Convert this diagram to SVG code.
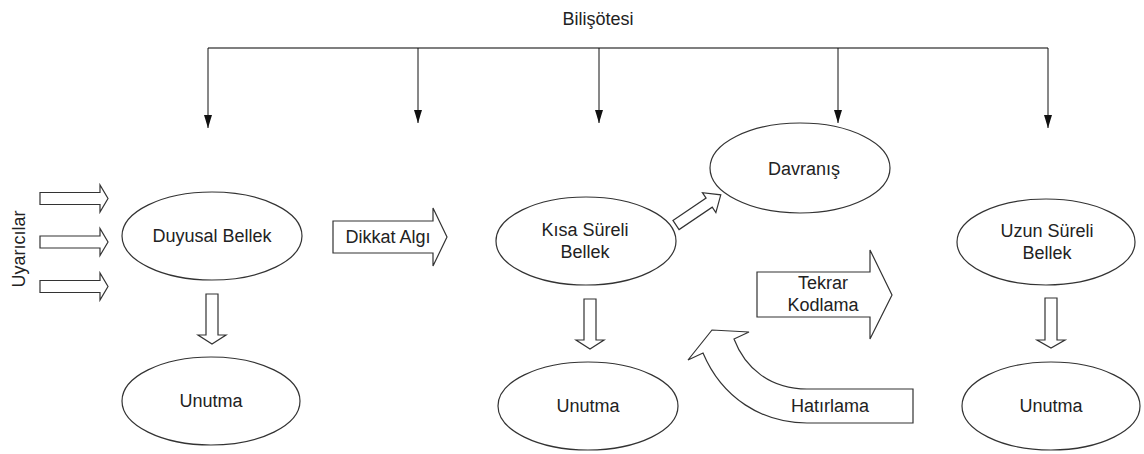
<svg xmlns="http://www.w3.org/2000/svg" width="1144" height="454" viewBox="0 0 1144 454">
<defs>
<style>
.n{fill:#fff;stroke:#333;stroke-width:1.2}
.b{fill:#fff;stroke:#333;stroke-width:1.2;stroke-linejoin:miter}
.t{font-family:"Liberation Sans",Arial,sans-serif;font-size:18px;fill:#222;text-anchor:middle}
.c{stroke:#111;stroke-width:1;fill:none}
</style>
<marker id="ah" viewBox="0 0 13 8" refX="13" refY="4" markerWidth="13" markerHeight="8" markerUnits="userSpaceOnUse" orient="auto">
<path d="M0,0 L13,4 L0,8 Z" fill="#111"/>
</marker>
</defs>
<rect width="1144" height="454" fill="#fff"/>
<text class="t" x="598" y="25">Bilişötesi</text>
<g id="connectors">
<line x1="208" y1="48" x2="1048" y2="48" stroke="#555" stroke-width="1.6"/>
<line class="c" x1="208" y1="48" x2="208" y2="128" marker-end="url(#ah)"/>
<line class="c" x1="418" y1="48" x2="418" y2="123" marker-end="url(#ah)"/>
<line class="c" x1="599" y1="48" x2="599" y2="123" marker-end="url(#ah)"/>
<line class="c" x1="838" y1="48" x2="838" y2="123" marker-end="url(#ah)"/>
<line class="c" x1="1048" y1="48" x2="1048" y2="128" marker-end="url(#ah)"/>
</g>
<g id="uyaricilar">
<text class="t" transform="translate(25,249) rotate(-90)">Uyarıcılar</text>
<path class="b" d="M40,192.5 H100 V185 L108,198.5 L100,212 V204.5 H40 Z"/>
<path class="b" d="M40,236 H100 V228.5 L108,242 L100,255.5 V248 H40 Z"/>
<path class="b" d="M40,280.5 H100 V273 L108,286.5 L100,300 V292.5 H40 Z"/>
</g>
<g id="duyusal-bellek">
<ellipse class="n" cx="212" cy="236" rx="90" ry="44"/>
<text class="t" x="212" y="242">Duyusal Bellek</text>
</g>
<g id="duyusal-unutma-arrow">
<path class="b" d="M206,294 H218 V335 H226 L212,344 L198,335 H206 Z"/>
</g>
<g id="duyusal-unutma">
<ellipse class="n" cx="211" cy="401" rx="89" ry="44"/>
<text class="t" x="211" y="407">Unutma</text>
</g>
<g id="dikkat-algi">
<path class="b" d="M333,221 H433 V208 L447,237 L433,266 V253 H333 Z"/>
<text class="t" x="388" y="243">Dikkat Algı</text>
</g>
<g id="kisa-sureli-bellek">
<ellipse class="n" cx="586" cy="241" rx="90" ry="44"/>
<text class="t" x="585" y="236">Kısa Süreli</text>
<text class="t" x="585" y="258">Bellek</text>
</g>
<g id="kisa-davranis-arrow">
<path class="b" d="M0,-5.5 H40 V-12 L54,0 L40,12 V5.5 H0 Z" transform="translate(676,225) rotate(-34)"/>
</g>
<g id="davranis">
<ellipse class="n" cx="800" cy="168" rx="90" ry="45"/>
<text class="t" x="804" y="175">Davranış</text>
</g>
<g id="kisa-unutma-arrow">
<path class="b" d="M584,299 H596 V340 H604 L590,349 L576,340 H584 Z"/>
</g>
<g id="kisa-unutma">
<ellipse class="n" cx="588" cy="406" rx="90" ry="44"/>
<text class="t" x="588" y="412">Unutma</text>
</g>
<g id="tekrar-kodlama">
<path class="b" d="M757,272 H870 V250 L892,295 L870,339 V317 H757 Z"/>
<text class="t" x="823" y="289">Tekrar</text>
<text class="t" x="823" y="311">Kodlama</text>
</g>
<g id="hatirlama">
<path class="b" d="M913,389 L807,389 C770,389 745,368 734,339 L749,332 L712,330 L688,360 L703,353 C722,398 762,423 807,423 L913,423 Z"/>
<text class="t" x="830" y="412">Hatırlama</text>
</g>
<g id="uzun-sureli-bellek">
<ellipse class="n" cx="1046" cy="242" rx="89" ry="43"/>
<text class="t" x="1047" y="237">Uzun Süreli</text>
<text class="t" x="1047" y="259">Bellek</text>
</g>
<g id="uzun-unutma-arrow">
<path class="b" d="M1045,298 H1057 V340 H1065 L1051,348 L1037,340 H1045 Z"/>
</g>
<g id="uzun-unutma">
<ellipse class="n" cx="1051" cy="406" rx="89" ry="44"/>
<text class="t" x="1051" y="412">Unutma</text>
</g>
</svg>
